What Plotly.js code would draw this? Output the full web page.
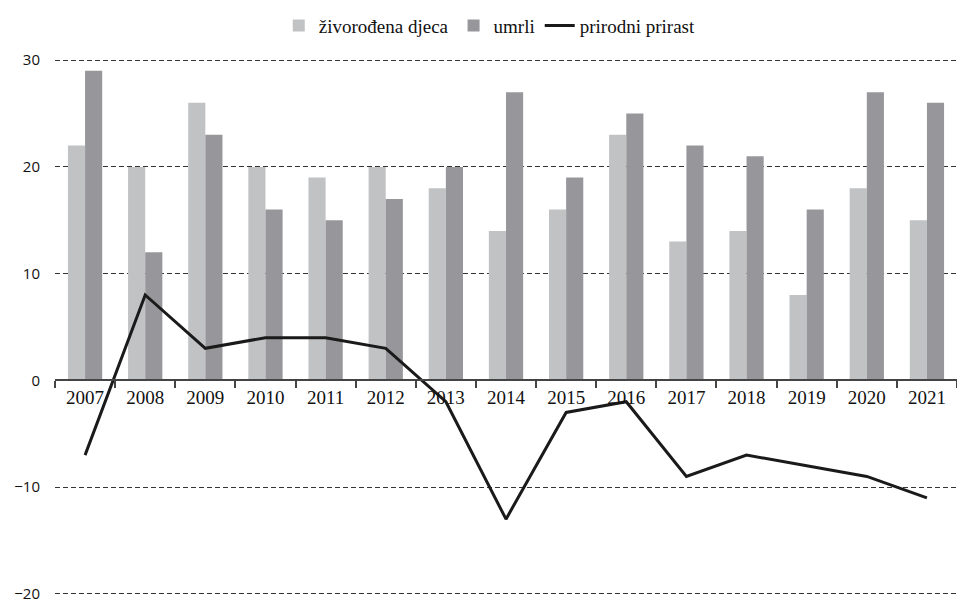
<!DOCTYPE html>
<html>
<head>
<meta charset="utf-8">
<script src="https://cdn.plot.ly/plotly-3.0.1.min.js"></script>
<style>
  html, body { margin: 0; padding: 0; background: #fff; }
  #chart { width: 957px; height: 605px; }
</style>
</head>
<body>
<div id="chart"></div>
<script>
let years = ['2007', '2008', '2009', '2010', '2011', '2012', '2013', '2014', '2015', '2016', '2017', '2018', '2019', '2020', '2021']
let zivorodeni = [22, 20, 26, 20, 19, 20, 18, 14, 16, 23, 13, 14, 8, 18, 15]
let umrli = [29, 12, 23, 16, 15, 17, 20, 27, 19, 25, 22, 21, 16, 27, 26]
let prirast = [-7, 8, 3, 4, 4, 3, -2, -13, -3, -2, -9, -7, -8, -9, -11]

let traces = [
  {
    x: years,
    y: zivorodeni,
    type: 'bar',
    name: 'živorođena djeca',
    marker: { color: '#c1c2c4' }
  },
  {
    x: years,
    y: umrli,
    type: 'bar',
    name: 'umrli',
    marker: { color: '#97979b' }
  },
  {
    x: years,
    y: prirast,
    type: 'scatter',
    mode: 'lines',
    name: 'prirodni prirast',
    line: { color: '#1a1a1a', width: 3 }
  }
]

// small padding so the 30 and -20 gridlines are still drawn
let yMin = -20.2
let yMax = 30.2

let layout = {
  width: 957,
  height: 605,
  margin: { l: 55, r: 0, t: 58, b: 9 },
  paper_bgcolor: '#fff',
  plot_bgcolor: '#fff',
  barmode: 'group',
  bargap: 0.43,
  bargroupgap: 0,
  showlegend: true,
  legend: {
    orientation: 'h',
    x: 0.482,
    xanchor: 'center',
    y: 1.06,
    yanchor: 'middle',
    font: { family: 'Liberation Serif, Times New Roman, serif', size: 19, color: '#111' },
    itemwidth: 30,
    traceorder: 'normal'
  },
  xaxis: {
    type: 'category',
    anchor: 'free',
    position: (0 - yMin) / (yMax - yMin),
    showline: true,
    linecolor: '#444',
    linewidth: 2,
    ticks: 'outside',
    tickson: 'boundaries',
    ticklen: 7,
    tickcolor: '#444',
    tickwidth: 2,
    showgrid: false,
    tickfont: { family: 'Liberation Serif, Times New Roman, serif', size: 19, color: '#111' }
  },
  yaxis: {
    range: [yMin, yMax],
    tickvals: [-20, -10, 0, 10, 20, 30],
    showgrid: true,
    gridcolor: '#333',
    gridwidth: 1,
    griddash: '5px,3px',
    zeroline: false,
    showline: false,
    ticks: '',
    ticklabelstandoff: 14,
    ticklabeloverflow: 'allow',
    tickfont: { family: 'Open Sans, DejaVu Sans, sans-serif', size: 15, color: '#111' }
  }
}

Plotly.newPlot('chart', traces, layout, { displayModeBar: false, staticPlot: true })
</script>
</body>
</html>
